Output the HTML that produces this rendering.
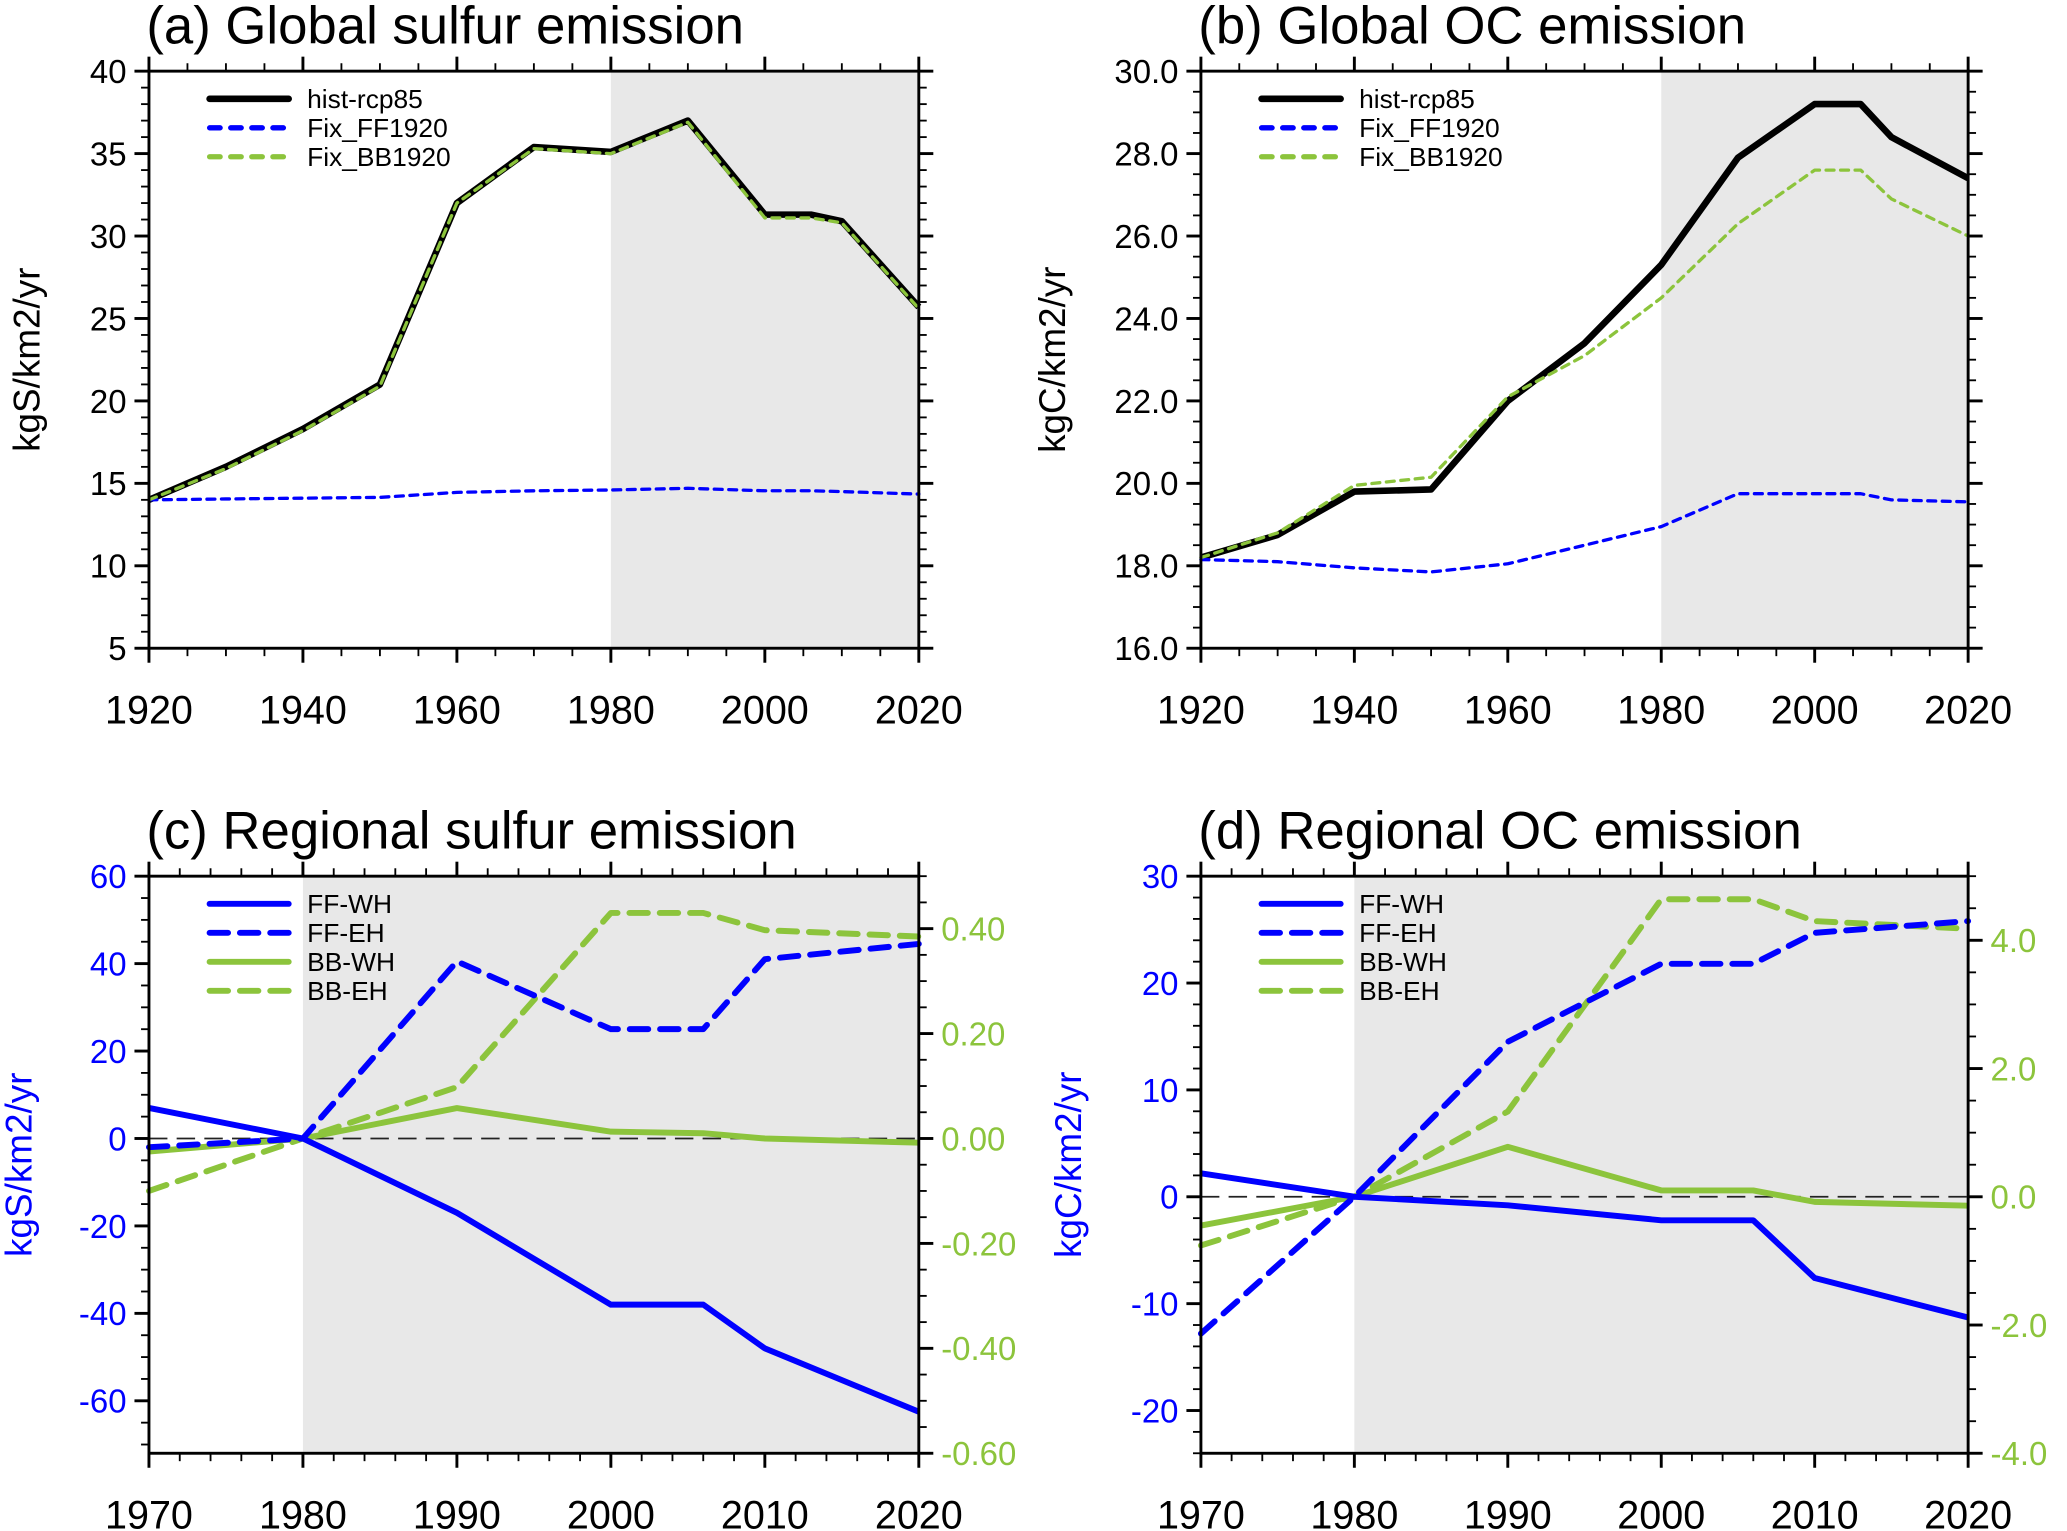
<!DOCTYPE html>
<html><head><meta charset="utf-8"><style>
html,body{margin:0;padding:0;background:#fff}
svg{display:block;font-family:"Liberation Sans",Arial,sans-serif}
</style></head><body>
<svg id="fig" width="2067" height="1531" viewBox="0 0 1568 1162" preserveAspectRatio="none" xmlns="http://www.w3.org/2000/svg"></svg>
<script>
// ---- data ----
const yearsG = [1920,1930,1940,1950,1960,1970,1980,1990,2000,2006,2010,2020];
const sHist = [14,16,18.3,21,32,35.4,35.1,37,31.3,31.3,30.9,25.7];
const sFF = [14,14.05,14.1,14.15,14.45,14.55,14.6,14.7,14.55,14.55,14.5,14.35];
const sBB = [14,15.9,18.2,20.9,32,35.3,35,36.9,31.1,31.1,30.8,25.6];
const oHist = [18.2,18.75,19.8,19.85,22,23.4,25.3,27.9,29.2,29.2,28.4,27.4];
const oFF = [18.15,18.1,17.95,17.85,18.05,18.5,18.95,19.75,19.75,19.75,19.6,19.55];
const oBB = [18.2,18.8,19.95,20.15,22.1,23.1,24.5,26.3,27.6,27.6,26.9,26.0];
const yearsR = [1970,1980,1990,2000,2006,2010,2020];
const cFFWH = [7,0,-17,-38,-38,-48,-62.5];
const cFFEH = [-2,0,40.5,25,25,41,44.5];
const cBBWH = [-0.025,0,0.058,0.013,0.01,0,-0.008];
const cBBEH = [-0.1,0,0.098,0.43,0.43,0.397,0.385];
const dFFWH = [2.2,0,-0.8,-2.2,-2.2,-7.6,-11.3];
const dFFEH = [-12.8,0,14.5,21.8,21.8,24.7,25.8];
const dBBWH = [-0.45,0,0.78,0.1,0.1,-0.08,-0.14];
const dBBEH = [-0.76,0,1.33,4.64,4.64,4.3,4.18];
const ticksGx = [1920,1940,1960,1980,2000,2020];
const ticksRx = [1970,1980,1990,2000,2010,2020];

const NS='http://www.w3.org/2000/svg';
const svg=document.getElementById('fig');
function mk(tag,attrs,parent){const e=document.createElementNS(NS,tag);for(const k in attrs)e.setAttribute(k,attrs[k]);(parent||svg).appendChild(e);return e;}
const BLUE='#0000ff', GREEN='#8cc43c';

function panel(o){
  const g=mk('g',{});
  
  
  const X=v=>o.x0+(v-o.xmin)/(o.xmax-o.xmin)*(o.x1-o.x0);
  const Y=v=>o.y1-(v-o.ymin)/(o.ymax-o.ymin)*(o.y1-o.y0);
  const Y2=o.y2?(v=>o.y1-(v-o.y2.min)/(o.y2.max-o.y2.min)*(o.y1-o.y0)):null;
  const sh=mk('rect',{x:X(1980),y:o.y0,width:o.x1-X(1980),height:o.y1-o.y0,fill:'#e8e8e8'},g);
  
  
  if(o.zero){const z=mk('line',{x1:o.x0,x2:o.x1,y1:Y(0),y2:Y(0),stroke:'#222','stroke-width':1.3,'stroke-dasharray':'14,7'},g);
    }
  o.series.forEach(s=>{
    const sc=s.right?Y2:Y;
    const pts=o.years.map((yr,i)=>X(yr).toFixed(1)+','+sc(s.v[i]).toFixed(1)).join(' ');
    const p=mk('polyline',{points:pts,fill:'none',stroke:s.c,'stroke-width':s.w,'stroke-dasharray':s.d||'none','stroke-linejoin':'round','stroke-linecap':s.d?'round':'butt'},g);
    
    
  });
  mk('rect',{x:o.x0,y:o.y0,width:o.x1-o.x0,height:o.y1-o.y0,fill:'none',stroke:'#000','stroke-width':2.2},g);
  const ax=mk('g',{stroke:'#000','stroke-width':1.6},g);
  
  for(let v=o.xmin;v<=o.xmax+1e-9;v+=o.xminor){
    const maj=o.xticks.some(t=>Math.abs(t-v)<1e-6);const L=maj?11:6;
    mk('line',{x1:X(v),x2:X(v),y1:o.y1,y2:o.y1+L,'stroke-width':maj?2.2:1.4},ax);
    mk('line',{x1:X(v),x2:X(v),y1:o.y0,y2:o.y0-L,'stroke-width':maj?2.2:1.4},ax);
  }
  o.xticks.forEach(t=>{const tx=mk('text',{x:X(t),y:o.y1+57,'font-size':30,'text-anchor':'middle',fill:'#000'},g);tx.textContent=t;
    });
  const start=Math.ceil(o.ymin/o.yminor-1e-9)*o.yminor;
  for(let v=start;v<=o.ymax+1e-9;v+=o.yminor){
    const maj=o.yticks.some(t=>Math.abs(t-v)<1e-6);const L=maj?11:6;
    mk('line',{x1:o.x0,x2:o.x0-L,y1:Y(v),y2:Y(v),'stroke-width':maj?2.2:1.4},ax);
    if(!o.y2) mk('line',{x1:o.x1,x2:o.x1+L,y1:Y(v),y2:Y(v),'stroke-width':maj?2.2:1.4},ax);
  }
  o.yticks.forEach(t=>{const tx=mk('text',{x:o.x0-17,y:Y(t)+9,'font-size':25,'text-anchor':'end',fill:o.ycol||'#000'},g);tx.textContent=o.yfmt?o.yfmt(t):t;
    });
  if(o.y2){
    const s2=Math.ceil(o.y2.min/o.y2.minor-1e-9)*o.y2.minor;
    for(let v=s2;v<=o.y2.max+1e-9;v+=o.y2.minor){
      const maj=o.y2.ticks.some(t=>Math.abs(t-v)<1e-6);const L=maj?11:6;
      mk('line',{x1:o.x1,x2:o.x1+L,y1:Y2(v),y2:Y2(v),'stroke-width':maj?2.2:1.4},ax);
    }
    o.y2.ticks.forEach(t=>{const tx=mk('text',{x:o.x1+17,y:Y2(t)+9,'font-size':25,'text-anchor':'start',fill:GREEN},g);tx.textContent=o.y2.fmt(t);
      });
  }
  const t=mk('text',{x:o.x0-2,y:o.y0-21,'font-size':40,fill:'#000'},g);t.textContent=o.title;
  
  const yt=mk('text',{x:0,y:0,'font-size':28,'text-anchor':'middle',fill:o.ycol||'#000',transform:`translate(${o.ytx},${(o.y0+o.y1)/2}) rotate(-90)`},g);yt.textContent=o.ytitle;
  
  o.series.slice().sort((a,b)=>a.li-b.li).forEach((s,i)=>{
    const ly=o.y0+21+i*22;
    const lg=mk('g',{},g);
    
    mk('line',{x1:o.x0+46,x2:o.x0+106,y1:ly,y2:ly,stroke:s.c,'stroke-width':s.lw||s.w,'stroke-dasharray':s.ld||s.d||'none','stroke-linecap':'round'},lg);
    const tx=mk('text',{x:o.x0+120,y:ly+7,'font-size':20,fill:'#000'},lg);tx.textContent=s.n;
  });
}
const f1=v=>v.toFixed(1), f2=v=>v.toFixed(2);
panel({name:'panel-a',title:'(a)  Global sulfur emission',x0:113,x1:697,y0:54,y1:492,xmin:1920,xmax:2020,ymin:5,ymax:40,
  xticks:ticksGx,xminor:5,yticks:[5,10,15,20,25,30,35,40],yminor:1,years:yearsG,ytitle:'kgS/km2/yr',ytx:30,
  series:[{n:'hist-rcp85',v:sHist,c:'#000',w:5,li:0},{n:'Fix_FF1920',v:sFF,c:BLUE,w:2.5,d:'6,5',lw:4,ld:'8,8',li:1},{n:'Fix_BB1920',v:sBB,c:GREEN,w:2.5,d:'6,5',lw:4,ld:'8,8',li:2}]});
panel({name:'panel-b',title:'(b)  Global OC emission',x0:911,x1:1493,y0:54,y1:492,xmin:1920,xmax:2020,ymin:16,ymax:30,
  xticks:ticksGx,xminor:5,yticks:[16,18,20,22,24,26,28,30],yminor:0.5,yfmt:f1,years:yearsG,ytitle:'kgC/km2/yr',ytx:808,
  series:[{n:'hist-rcp85',v:oHist,c:'#000',w:5,li:0},{n:'Fix_FF1920',v:oFF,c:BLUE,w:2.5,d:'6,5',lw:4,ld:'8,8',li:1},{n:'Fix_BB1920',v:oBB,c:GREEN,w:2.5,d:'6,5',lw:4,ld:'8,8',li:2}]});
panel({name:'panel-c',title:'(c)  Regional sulfur emission',x0:113,x1:697,y0:665,y1:1103,xmin:1970,xmax:2020,ymin:-72,ymax:60,
  xticks:ticksRx,xminor:2,yticks:[-60,-40,-20,0,20,40,60],yminor:5,ycol:BLUE,years:yearsR,ytitle:'kgS/km2/yr',ytx:24,zero:true,
  y2:{min:-0.6,max:0.5,ticks:[-0.6,-0.4,-0.2,0,0.2,0.4],minor:0.05,fmt:f2},
  series:[{n:'BB-WH',v:cBBWH,c:GREEN,w:4.5,right:true,li:2},{n:'BB-EH',v:cBBEH,c:GREEN,w:4.5,d:'14,9',right:true,li:3},
          {n:'FF-WH',v:cFFWH,c:BLUE,w:4.5,li:0},{n:'FF-EH',v:cFFEH,c:BLUE,w:4.5,d:'14,9',li:1}]});
panel({name:'panel-d',title:'(d) Regional OC emission',x0:911,x1:1493,y0:665,y1:1103,xmin:1970,xmax:2020,ymin:-24,ymax:30,
  xticks:ticksRx,xminor:2,yticks:[-20,-10,0,10,20,30],yminor:2,ycol:BLUE,years:yearsR,ytitle:'kgC/km2/yr',ytx:820,zero:true,
  y2:{min:-4,max:5,ticks:[-4,-2,0,2,4],minor:0.5,fmt:f1},
  series:[{n:'BB-WH',v:dBBWH,c:GREEN,w:4.5,right:true,li:2},{n:'BB-EH',v:dBBEH,c:GREEN,w:4.5,d:'14,9',right:true,li:3},
          {n:'FF-WH',v:dFFWH,c:BLUE,w:4.5,li:0},{n:'FF-EH',v:dFFEH,c:BLUE,w:4.5,d:'14,9',li:1}]});
</script>
</body></html>
